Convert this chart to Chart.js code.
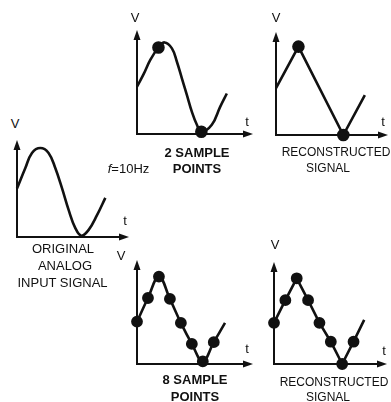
<!DOCTYPE html>
<html>
<head>
<meta charset="utf-8">
<script src="https://cdn.jsdelivr.net/npm/chart.js@4"></script>
<style>
  html, body { margin: 0; padding: 0; background: #fff; }
  #stage { position: relative; width: 391px; height: 402px; overflow: hidden; }
  #stage canvas { position: absolute; }
  .lbl {
    position: absolute; transform: translate(-50%, -50%);
    font-family: "Liberation Sans", Arial, sans-serif; color: #111;
    line-height: 1; white-space: nowrap;
  }
</style>
</head>
<body>
<div id="stage"></div>
<script>
// time in ms (f = 10 Hz -> one period = 100 ms), voltage in arbitrary units (0 = t axis)

// original analog input signal
const origT = [0, 9.7, 17.4, 27.1, 36.7, 44.5, 52.3, 60, 67.8, 74.8, 83.3, 93, 102.7];
const origV = [1.09, 1.55, 1.89, 2.0, 1.89, 1.55, 1.10, 0.61, 0.20, 0.03, 0.16, 0.49, 0.88];

// same signal with 2 sample points
const twoCurveT = [0, 7.7, 15.5, 25, 32.1, 40.7, 46.5, 52.3, 58.1, 64, 69.8, 75, 87.2, 96.9, 104.7];
const twoCurveV = [1.03, 1.30, 1.61, 1.88, 1.99, 1.86, 1.57, 1.21, 0.85, 0.48, 0.20, 0.05, 0.20, 0.59, 0.88];
const twoSampleT = [25, 75];
const twoSampleV = [1.88, 0.05];

// reconstructed from 2 samples (straight segments)
const recon2T = [0, 25, 75, 99];
const recon2V = [1.06, 2.0, 0, 0.9];
const recon2DotT = [25, 75];
const recon2DotV = [2.0, 0];

// 8 sample points
const eightT = [0, 12.5, 25, 37.5, 50, 62.5, 75, 87.5];
const eightV = [0.97, 1.51, 2.0, 1.49, 0.94, 0.46, 0.06, 0.50];
const eightEndT = 100.3, eightEndV = 0.94;

// reconstructed from 8 samples
const recon8V = [0.96, 1.49, 2.0, 1.49, 0.96, 0.52, 0, 0.52];
const recon8EndT = 99.2, recon8EndV = 1.03;

const xy = (ts, vs) => ts.map((t, i) => ({ x: t, y: vs[i] }));

// axis geometry of each little plot (origin, arrow tips) and its scale ranges
const panels = [
  { ox: 17, oy: 237, top: 140, right: 129, xMax: 130.2, yMax: 2.18,
    sets: [{ pts: xy(origT, origV), smooth: true }] },
  { ox: 137, oy: 134, top: 30, right: 253, xMax: 135.2, yMax: 2.26,
    sets: [{ pts: xy(twoCurveT, twoCurveV), smooth: true },
           { pts: xy(twoSampleT, twoSampleV), dots: 5 }] },
  { ox: 276, oy: 135, top: 32, right: 388, xMax: 124.8, yMax: 2.33,
    sets: [{ pts: xy(recon2T, recon2V) },
           { pts: xy(recon2DotT, recon2DotV), dots: 5 }] },
  { ox: 137, oy: 364, top: 260, right: 253, xMax: 132.2, yMax: 2.38,
    sets: [{ pts: xy(eightT, eightV).concat([{ x: eightEndT, y: eightEndV }]), smooth: true },
           { pts: xy(eightT, eightV), dots: 4.6 }] },
  { ox: 274, oy: 364, top: 262, right: 387, xMax: 124.3, yMax: 2.38,
    sets: [{ pts: xy(eightT, recon8V).concat([{ x: recon8EndT, y: recon8EndV }]) },
           { pts: xy(eightT, recon8V), dots: 4.6 }] }
];

// text, x, y, size, bold
const labels = [
  ['V', 15, 123, 13], ['t', 125, 219.5, 13],
  ['V', 135, 17, 13], ['t', 247, 121, 13],
  ['V', 276, 17, 13], ['t', 383, 121, 13],
  ['V', 121, 255, 13], ['t', 247, 348, 13],
  ['V', 275, 244, 13], ['t', 384, 350, 13],
  ['ORIGINAL', 63, 247.5, 13], ['ANALOG', 65, 265, 13], ['INPUT SIGNAL', 62.5, 282, 13],
  ['2 SAMPLE', 197, 152, 13, true], ['POINTS', 197, 168, 13, true],
  ['RECONSTRUCTED', 336, 152, 12], ['SIGNAL', 328, 168, 12],
  ['8 SAMPLE', 195, 379, 13, true], ['POINTS', 195, 396, 13, true],
  ['RECONSTRUCTED', 334, 382, 12], ['SIGNAL', 328, 397, 12]
];

// draws the V and t axes with arrow heads under the data
const arrowAxes = {
  id: 'arrowAxes',
  beforeDatasetsDraw(chart) {
    const { ctx, chartArea: a } = chart;
    ctx.save();
    ctx.strokeStyle = '#111';
    ctx.fillStyle = '#111';
    ctx.lineWidth = 2;
    ctx.beginPath();
    ctx.moveTo(a.left, a.top + 7);
    ctx.lineTo(a.left, a.bottom);
    ctx.lineTo(a.right - 7, a.bottom);
    ctx.stroke();
    ctx.beginPath();
    ctx.moveTo(a.left, a.top);
    ctx.lineTo(a.left - 3.5, a.top + 10);
    ctx.lineTo(a.left + 3.5, a.top + 10);
    ctx.closePath();
    ctx.fill();
    ctx.beginPath();
    ctx.moveTo(a.right, a.bottom);
    ctx.lineTo(a.right - 10, a.bottom - 3.5);
    ctx.lineTo(a.right - 10, a.bottom + 3.5);
    ctx.closePath();
    ctx.fill();
    ctx.restore();
  }
};

const stage = document.getElementById('stage');
const pad = 8;

panels.forEach(p => {
  const canvas = document.createElement('canvas');
  const w = p.right - p.ox + pad * 2;
  const h = p.oy - p.top + pad * 2;
  canvas.width = w;
  canvas.height = h;
  canvas.style.left = (p.ox - pad) + 'px';
  canvas.style.top = (p.top - pad) + 'px';
  stage.appendChild(canvas);

  new Chart(canvas.getContext('2d'), {
    type: 'line',
    data: {
      datasets: p.sets.map(s => ({
        data: s.pts,
        borderColor: '#111',
        backgroundColor: '#111',
        borderWidth: 2.6,
        showLine: !s.dots,
        pointRadius: s.dots || 0,
        tension: s.smooth ? 0.4 : 0,
        clip: false
      }))
    },
    options: {
      responsive: false,
      animation: false,
      devicePixelRatio: 1,
      layout: { padding: pad },
      scales: {
        x: { type: 'linear', min: 0, max: p.xMax, display: false },
        y: { min: 0, max: p.yMax, display: false }
      },
      plugins: { legend: { display: false }, tooltip: { enabled: false } }
    },
    plugins: [arrowAxes]
  });
});

labels.forEach(([text, x, y, size, bold]) => {
  const d = document.createElement('div');
  d.className = 'lbl';
  d.textContent = text;
  d.style.left = x + 'px';
  d.style.top = y + 'px';
  d.style.fontSize = size + 'px';
  if (bold) d.style.fontWeight = 'bold';
  stage.appendChild(d);
});

// frequency note between the plots
const f = document.createElement('div');
f.className = 'lbl';
f.innerHTML = '<i>f</i>=10Hz';
f.style.left = '128.5px';
f.style.top = '168px';
f.style.fontSize = '13px';
stage.appendChild(f);
</script>
</body>
</html>
